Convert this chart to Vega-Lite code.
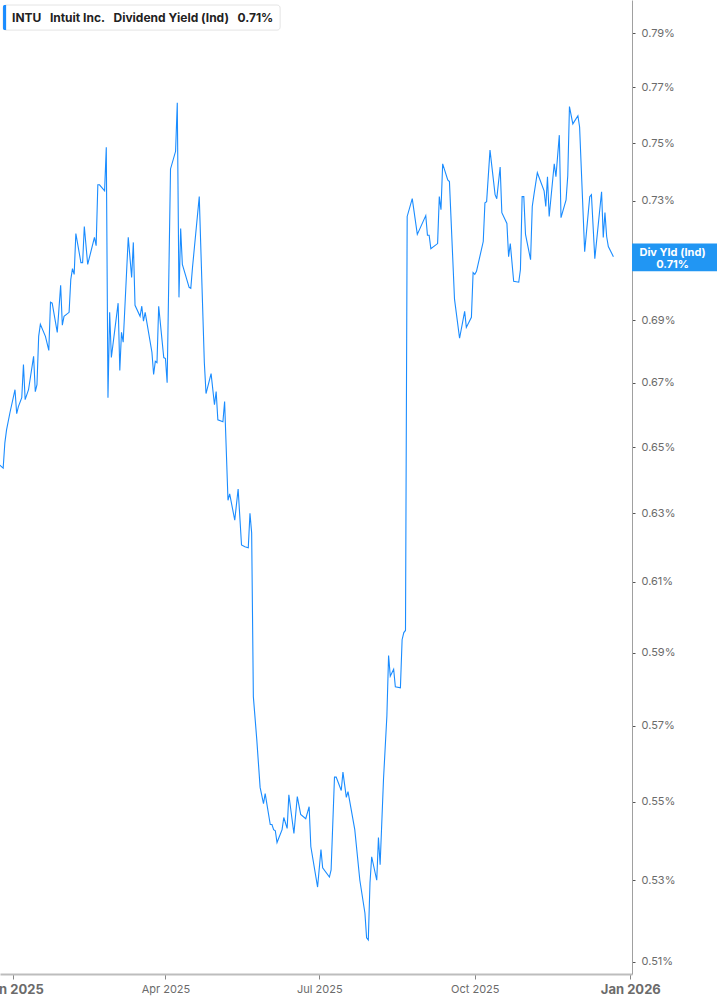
{
  "$schema": "https://vega.github.io/schema/vega-lite/v6.json",
  "width": 632,
  "height": 974,
  "autosize": "none",
  "padding": {"left": 0, "top": 0, "right": 85, "bottom": 31},
  "background": "white",
  "config": {
    "view": {"stroke": null},
    "font": "Inter",
    "axis": {"labelFont": "Inter", "grid": false, "title": null}
  },
  "datasets": {
    "note": [{"label": "INTU"}]
  },
  "data": {
    "values": [
      {"date": "2024-12-24", "yield": 0.6445},
      {"date": "2024-12-26", "yield": 0.6436},
      {"date": "2024-12-27", "yield": 0.6513},
      {"date": "2024-12-28", "yield": 0.6553},
      {"date": "2024-12-30", "yield": 0.6606},
      {"date": "2025-01-02", "yield": 0.6678},
      {"date": "2025-01-03", "yield": 0.6603},
      {"date": "2025-01-04", "yield": 0.6625},
      {"date": "2025-01-06", "yield": 0.6653},
      {"date": "2025-01-07", "yield": 0.6758},
      {"date": "2025-01-08", "yield": 0.6647},
      {"date": "2025-01-10", "yield": 0.6678},
      {"date": "2025-01-13", "yield": 0.6784},
      {"date": "2025-01-14", "yield": 0.6672},
      {"date": "2025-01-15", "yield": 0.6694},
      {"date": "2025-01-16", "yield": 0.6848},
      {"date": "2025-01-17", "yield": 0.6887},
      {"date": "2025-01-20", "yield": 0.6848},
      {"date": "2025-01-22", "yield": 0.6803},
      {"date": "2025-01-23", "yield": 0.6959},
      {"date": "2025-01-24", "yield": 0.6956},
      {"date": "2025-01-27", "yield": 0.6861},
      {"date": "2025-01-29", "yield": 0.7015},
      {"date": "2025-01-30", "yield": 0.6884},
      {"date": "2025-01-31", "yield": 0.6913},
      {"date": "2025-02-03", "yield": 0.6926},
      {"date": "2025-02-04", "yield": 0.7034},
      {"date": "2025-02-05", "yield": 0.7070},
      {"date": "2025-02-06", "yield": 0.7051},
      {"date": "2025-02-07", "yield": 0.7188},
      {"date": "2025-02-10", "yield": 0.7090},
      {"date": "2025-02-11", "yield": 0.7090},
      {"date": "2025-02-12", "yield": 0.7212},
      {"date": "2025-02-14", "yield": 0.7084},
      {"date": "2025-02-18", "yield": 0.7175},
      {"date": "2025-02-19", "yield": 0.7147},
      {"date": "2025-02-20", "yield": 0.7355},
      {"date": "2025-02-21", "yield": 0.7355},
      {"date": "2025-02-24", "yield": 0.7334},
      {"date": "2025-02-25", "yield": 0.7486},
      {"date": "2025-02-26", "yield": 0.6653},
      {"date": "2025-02-27", "yield": 0.6926},
      {"date": "2025-02-28", "yield": 0.6780},
      {"date": "2025-03-04", "yield": 0.6956},
      {"date": "2025-03-05", "yield": 0.6739},
      {"date": "2025-03-06", "yield": 0.6861},
      {"date": "2025-03-07", "yield": 0.6829},
      {"date": "2025-03-10", "yield": 0.7175},
      {"date": "2025-03-12", "yield": 0.7041},
      {"date": "2025-03-13", "yield": 0.7158},
      {"date": "2025-03-14", "yield": 0.6949},
      {"date": "2025-03-17", "yield": 0.6913},
      {"date": "2025-03-18", "yield": 0.6946},
      {"date": "2025-03-19", "yield": 0.6897},
      {"date": "2025-03-20", "yield": 0.6926},
      {"date": "2025-03-24", "yield": 0.6797},
      {"date": "2025-03-25", "yield": 0.6726},
      {"date": "2025-03-26", "yield": 0.6768},
      {"date": "2025-03-27", "yield": 0.6764},
      {"date": "2025-03-28", "yield": 0.6946},
      {"date": "2025-03-31", "yield": 0.6780},
      {"date": "2025-04-01", "yield": 0.6777},
      {"date": "2025-04-02", "yield": 0.6700},
      {"date": "2025-04-04", "yield": 0.7410},
      {"date": "2025-04-07", "yield": 0.7472},
      {"date": "2025-04-08", "yield": 0.7645},
      {"date": "2025-04-09", "yield": 0.6975},
      {"date": "2025-04-10", "yield": 0.7205},
      {"date": "2025-04-11", "yield": 0.7084},
      {"date": "2025-04-15", "yield": 0.7008},
      {"date": "2025-04-16", "yield": 0.7005},
      {"date": "2025-04-17", "yield": 0.7074},
      {"date": "2025-04-21", "yield": 0.7314},
      {"date": "2025-04-24", "yield": 0.6764},
      {"date": "2025-04-25", "yield": 0.6666},
      {"date": "2025-04-28", "yield": 0.6729},
      {"date": "2025-04-30", "yield": 0.6631},
      {"date": "2025-05-01", "yield": 0.6672},
      {"date": "2025-05-02", "yield": 0.6584},
      {"date": "2025-05-05", "yield": 0.6578},
      {"date": "2025-05-06", "yield": 0.6641},
      {"date": "2025-05-08", "yield": 0.6339},
      {"date": "2025-05-09", "yield": 0.6358},
      {"date": "2025-05-12", "yield": 0.6280},
      {"date": "2025-05-14", "yield": 0.6373},
      {"date": "2025-05-16", "yield": 0.6207},
      {"date": "2025-05-18", "yield": 0.6202},
      {"date": "2025-05-20", "yield": 0.6199},
      {"date": "2025-05-21", "yield": 0.6300},
      {"date": "2025-05-22", "yield": 0.6242},
      {"date": "2025-05-23", "yield": 0.5779},
      {"date": "2025-05-25", "yield": 0.5665},
      {"date": "2025-05-27", "yield": 0.5537},
      {"date": "2025-05-29", "yield": 0.5495},
      {"date": "2025-05-30", "yield": 0.5521},
      {"date": "2025-06-02", "yield": 0.5441},
      {"date": "2025-06-03", "yield": 0.5441},
      {"date": "2025-06-04", "yield": 0.5428},
      {"date": "2025-06-05", "yield": 0.5425},
      {"date": "2025-06-06", "yield": 0.5395},
      {"date": "2025-06-09", "yield": 0.5428},
      {"date": "2025-06-10", "yield": 0.5459},
      {"date": "2025-06-12", "yield": 0.5431},
      {"date": "2025-06-13", "yield": 0.5518},
      {"date": "2025-06-16", "yield": 0.5418},
      {"date": "2025-06-18", "yield": 0.5513},
      {"date": "2025-06-20", "yield": 0.5467},
      {"date": "2025-06-23", "yield": 0.5456},
      {"date": "2025-06-25", "yield": 0.5487},
      {"date": "2025-06-26", "yield": 0.5385},
      {"date": "2025-06-30", "yield": 0.5283},
      {"date": "2025-07-02", "yield": 0.5377},
      {"date": "2025-07-03", "yield": 0.5331},
      {"date": "2025-07-07", "yield": 0.5308},
      {"date": "2025-07-08", "yield": 0.5326},
      {"date": "2025-07-10", "yield": 0.5564},
      {"date": "2025-07-11", "yield": 0.5564},
      {"date": "2025-07-14", "yield": 0.5529},
      {"date": "2025-07-15", "yield": 0.5577},
      {"date": "2025-07-17", "yield": 0.5511},
      {"date": "2025-07-18", "yield": 0.5526},
      {"date": "2025-07-22", "yield": 0.5428},
      {"date": "2025-07-25", "yield": 0.5300},
      {"date": "2025-07-28", "yield": 0.5219},
      {"date": "2025-07-29", "yield": 0.5158},
      {"date": "2025-07-30", "yield": 0.5153},
      {"date": "2025-07-31", "yield": 0.5293},
      {"date": "2025-08-01", "yield": 0.5359},
      {"date": "2025-08-04", "yield": 0.5300},
      {"date": "2025-08-05", "yield": 0.5408},
      {"date": "2025-08-06", "yield": 0.5339},
      {"date": "2025-08-08", "yield": 0.5559},
      {"date": "2025-08-10", "yield": 0.5727},
      {"date": "2025-08-11", "yield": 0.5892},
      {"date": "2025-08-12", "yield": 0.5835},
      {"date": "2025-08-14", "yield": 0.5854},
      {"date": "2025-08-15", "yield": 0.5806},
      {"date": "2025-08-18", "yield": 0.5803},
      {"date": "2025-08-19", "yield": 0.5936},
      {"date": "2025-08-20", "yield": 0.5956},
      {"date": "2025-08-21", "yield": 0.5962},
      {"date": "2025-08-22", "yield": 0.7246},
      {"date": "2025-08-25", "yield": 0.7307},
      {"date": "2025-08-28", "yield": 0.7185},
      {"date": "2025-09-02", "yield": 0.7249},
      {"date": "2025-09-03", "yield": 0.7182},
      {"date": "2025-09-04", "yield": 0.7182},
      {"date": "2025-09-05", "yield": 0.7137},
      {"date": "2025-09-09", "yield": 0.7154},
      {"date": "2025-09-10", "yield": 0.7314},
      {"date": "2025-09-11", "yield": 0.7269},
      {"date": "2025-09-12", "yield": 0.7428},
      {"date": "2025-09-15", "yield": 0.7372},
      {"date": "2025-09-16", "yield": 0.7366},
      {"date": "2025-09-19", "yield": 0.6969},
      {"date": "2025-09-22", "yield": 0.6842},
      {"date": "2025-09-25", "yield": 0.6929},
      {"date": "2025-09-26", "yield": 0.6877},
      {"date": "2025-09-29", "yield": 0.6910},
      {"date": "2025-09-30", "yield": 0.7057},
      {"date": "2025-10-01", "yield": 0.7051},
      {"date": "2025-10-02", "yield": 0.7061},
      {"date": "2025-10-06", "yield": 0.7161},
      {"date": "2025-10-07", "yield": 0.7293},
      {"date": "2025-10-08", "yield": 0.7297},
      {"date": "2025-10-10", "yield": 0.7476},
      {"date": "2025-10-13", "yield": 0.7321},
      {"date": "2025-10-14", "yield": 0.7307},
      {"date": "2025-10-16", "yield": 0.7417},
      {"date": "2025-10-17", "yield": 0.7259},
      {"date": "2025-10-20", "yield": 0.7222},
      {"date": "2025-10-21", "yield": 0.7110},
      {"date": "2025-10-22", "yield": 0.7154},
      {"date": "2025-10-24", "yield": 0.7028},
      {"date": "2025-10-27", "yield": 0.7025},
      {"date": "2025-10-28", "yield": 0.7067},
      {"date": "2025-10-29", "yield": 0.7314},
      {"date": "2025-10-30", "yield": 0.7314},
      {"date": "2025-10-31", "yield": 0.7185},
      {"date": "2025-11-03", "yield": 0.7100},
      {"date": "2025-11-04", "yield": 0.7280},
      {"date": "2025-11-05", "yield": 0.7321},
      {"date": "2025-11-07", "yield": 0.7397},
      {"date": "2025-11-11", "yield": 0.7334},
      {"date": "2025-11-12", "yield": 0.7280},
      {"date": "2025-11-13", "yield": 0.7383},
      {"date": "2025-11-14", "yield": 0.7246},
      {"date": "2025-11-17", "yield": 0.7428},
      {"date": "2025-11-18", "yield": 0.7383},
      {"date": "2025-11-20", "yield": 0.7529},
      {"date": "2025-11-21", "yield": 0.7242},
      {"date": "2025-11-24", "yield": 0.7303},
      {"date": "2025-11-25", "yield": 0.7386},
      {"date": "2025-11-26", "yield": 0.7631},
      {"date": "2025-11-28", "yield": 0.7569},
      {"date": "2025-12-01", "yield": 0.7598},
      {"date": "2025-12-02", "yield": 0.7558},
      {"date": "2025-12-05", "yield": 0.7127},
      {"date": "2025-12-08", "yield": 0.7314},
      {"date": "2025-12-09", "yield": 0.7321},
      {"date": "2025-12-11", "yield": 0.7103},
      {"date": "2025-12-15", "yield": 0.7331},
      {"date": "2025-12-16", "yield": 0.7175},
      {"date": "2025-12-17", "yield": 0.7259},
      {"date": "2025-12-18", "yield": 0.7178},
      {"date": "2025-12-19", "yield": 0.7144},
      {"date": "2025-12-22", "yield": 0.7110}
    ]
  },
  "layer": [
    {
      "mark": {"type": "line", "color": "#1a8cff", "strokeWidth": 1.1, "interpolate": "linear"},
      "encoding": {
        "x": {
          "field": "date",
          "type": "temporal",
          "scale": {
            "type": "utc",
            "domain": [
              {"year": 2024, "month": 12, "date": 24, "hours": 3, "utc": true},
              {"year": 2026, "month": 1, "date": 2, "utc": true}
            ],
            "nice": false
          },
          "axis": {
            "orient": "bottom",
            "format": "%b %Y",
            "values": [
              {"year": 2025, "month": 1, "date": 1, "utc": true},
              {"year": 2025, "month": 4, "date": 1, "utc": true},
              {"year": 2025, "month": 7, "date": 1, "utc": true},
              {"year": 2025, "month": 10, "date": 1, "utc": true},
              {"year": 2026, "month": 1, "date": 1, "utc": true}
            ],
            "domainColor": "#bdbdbd",
            "domainWidth": 2,
            "tickColor": "#888888",
            "tickSize": 5,
            "tickWidth": 1,
            "labelPadding": 4,
            "labelColor": "#6b6b6b",
            "labelFontSize": {"condition": {"test": "utcmonth(datum.value) === 0", "value": 13}, "value": 11},
            "labelFontWeight": {"condition": {"test": "utcmonth(datum.value) === 0", "value": "bold"}, "value": "normal"},
            "labelOverlap": false,
            "labelFlush": false
          }
        },
        "y": {
          "field": "yield",
          "type": "quantitative",
          "scale": {"type": "log", "domain": [0.5071, 0.8024], "nice": false, "zero": false},
          "axis": {
            "orient": "right",
            "values": [0.51, 0.53, 0.55, 0.57, 0.59, 0.61, 0.63, 0.65, 0.67, 0.69, 0.71, 0.73, 0.75, 0.77, 0.79],
            "labelExpr": "format(datum.value, '.2f') + '%'",
            "domainColor": "#a0a0a0",
            "domainWidth": 1,
            "tickColor": "#555555",
            "tickSize": 3,
            "labelPadding": 6,
            "labelColor": "#6b6b6b",
            "labelFontSize": 11,
            "labelOverlap": false
          }
        }
      }
    },
    {
      "data": {"name": "note"},
      "mark": {"type": "rect", "color": "#2196f3", "clip": false},
      "encoding": {
        "x": {"datum": {"year": 2026, "month": 1, "date": 2, "utc": true}, "type": "temporal"},
        "x2": {"datum": {"year": 2026, "month": 2, "date": 25, "utc": true}},
        "y": {"datum": 0.7154, "type": "quantitative"},
        "y2": {"datum": 0.7061}
      }
    },
    {
      "data": {"name": "note"},
      "mark": {
        "type": "text",
        "color": "white",
        "fontWeight": "bold",
        "fontSize": 11,
        "align": "center",
        "baseline": "middle",
        "lineHeight": 12,
        "font": "Inter"
      },
      "encoding": {
        "x": {"datum": {"year": 2026, "month": 1, "date": 26, "utc": true}, "type": "temporal"},
        "y": {"datum": 0.7124, "type": "quantitative"},
        "text": {"value": ["Div Yld (Ind)", "0.71%"]}
      }
    },
    {
      "data": {"name": "note"},
      "mark": {"type": "rect", "fill": "white", "stroke": "#e4e4e4", "strokeWidth": 1, "cornerRadius": 3, "clip": false},
      "encoding": {
        "x": {"datum": {"year": 2024, "month": 12, "date": 25, "hours": 22, "utc": true}, "type": "temporal"},
        "x2": {"datum": {"year": 2025, "month": 6, "date": 7, "hours": 20, "utc": true}},
        "y": {"datum": 0.8005, "type": "quantitative"},
        "y2": {"datum": 0.7911}
      }
    },
    {
      "data": {"name": "note"},
      "mark": {"type": "rect", "fill": "#1a8cff", "cornerRadiusTopLeft": 2, "cornerRadiusBottomLeft": 2, "clip": false},
      "encoding": {
        "x": {"datum": {"year": 2024, "month": 12, "date": 25, "hours": 22, "utc": true}, "type": "temporal"},
        "x2": {"datum": {"year": 2024, "month": 12, "date": 27, "hours": 18, "utc": true}},
        "y": {"datum": 0.8005, "type": "quantitative"},
        "y2": {"datum": 0.7911}
      }
    },
    {
      "data": {"name": "note"},
      "mark": {
        "type": "text",
        "color": "#222222",
        "fontWeight": "bold",
        "fontSize": 12,
        "align": "left",
        "baseline": "middle",
        "font": "Inter"
      },
      "encoding": {
        "x": {"datum": {"year": 2024, "month": 12, "date": 31, "hours": 6, "utc": true}, "type": "temporal"},
        "y": {"datum": 0.7956, "type": "quantitative"},
        "text": {"value": "INTU\u00a0\u00a0\u00a0Intuit Inc.\u00a0\u00a0\u00a0Dividend Yield (Ind)\u00a0\u00a0\u00a00.71%"}
      }
    }
  ]
}
